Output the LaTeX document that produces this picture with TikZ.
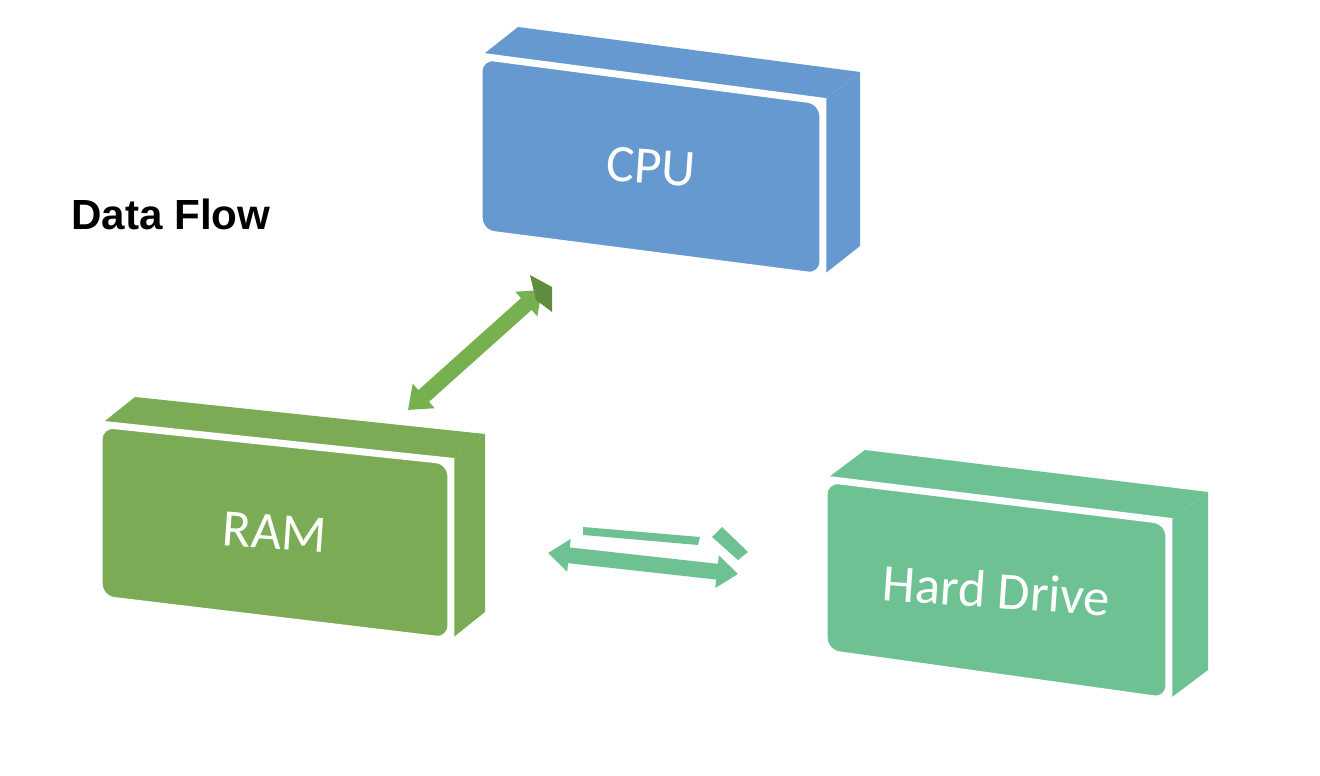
\documentclass[tikz,border=0pt]{standalone}
\usepackage{fontspec}
\setmainfont{Carlito}
\newfontfamily\hdfont{Liberation Sans}
\usetikzlibrary{arrows.meta,calc}
\definecolor{cpublue}{HTML}{6699CF}
\definecolor{ramgreen}{HTML}{7BAC55}
\definecolor{hdgreen}{HTML}{6DC193}
\definecolor{arrgreen}{HTML}{76B04F}
\newcommand{\myblock}[7]{%
  % #1 TL #2 TR #3 BR #4 BL #5 depth #6 colour #7 name
  \fill[#6] ($#1+#5$) -- ($#2+#5$) -- #2 -- #1 -- cycle;
  \fill[#6] #2 -- ($#2+#5$) -- ($#3+#5$) -- #3 -- cycle;
  \draw[white,line width=5] #1 -- #2 -- #3;
  \filldraw[#6,draw=white,line width=3,rounded corners=8] #1 -- #2 -- #3 -- #4 -- cycle;
  \coordinate (#7) at ($0.5*#1+0.5*#3$);
}
\begin{document}
\begin{tikzpicture}[x=0.02cm,y=-0.02cm,
  lbl/.style={text=white,font=\fontsize{30}{30}\selectfont},
  dbl/.style={line width=9pt,{Triangle[width=18pt,length=12pt]}-{Triangle[width=18pt,length=12pt]}}]
\useasboundingbox (0,0) rectangle (1320,776);
\myblock{(480,57)}{(822,102)}{(822,276)}{(480,232)}{(38,-30)}{cpublue}{cpu}
\myblock{(100,425)}{(450,462)}{(450,640)}{(100,598)}{(35,-28)}{ramgreen}{ram}
\myblock{(825,480)}{(1168,522)}{(1168,700)}{(825,652)}{(40,-30)}{hdgreen}{hd}
\node[lbl,rotate=-4] (cpulbl) at (cpu) {CPU};
\node[lbl,rotate=-4] (ramlbl) at (ram) {RAM};
\node[lbl,rotate=-4] (hdlbl) at (hd) {Hard Drive};
\node[font=\hdfont\bfseries\fontsize{24}{24}\selectfont,anchor=west] (title) at (65,214) {Data Flow};
\coordinate (a1) at (408,410);
\coordinate (a2) at (542,290);
\draw[dbl,arrgreen] (a1) -- (a2);
\fill[arrgreen!80!black] (530,275) -- (552,287) -- (552,312) -- (536,300) -- cycle;
\coordinate (b1) at (548,553);
\coordinate (b2) at (738,574);
\draw[dbl,hdgreen] (b1) -- (b2);
\fill[hdgreen] (583,527) -- (700,537) -- (698,545) -- (583,535) -- cycle;
\fill[hdgreen] (722,527) -- (748,552) -- (738,560) -- (712,537) -- cycle;
\end{tikzpicture}
\end{document}
